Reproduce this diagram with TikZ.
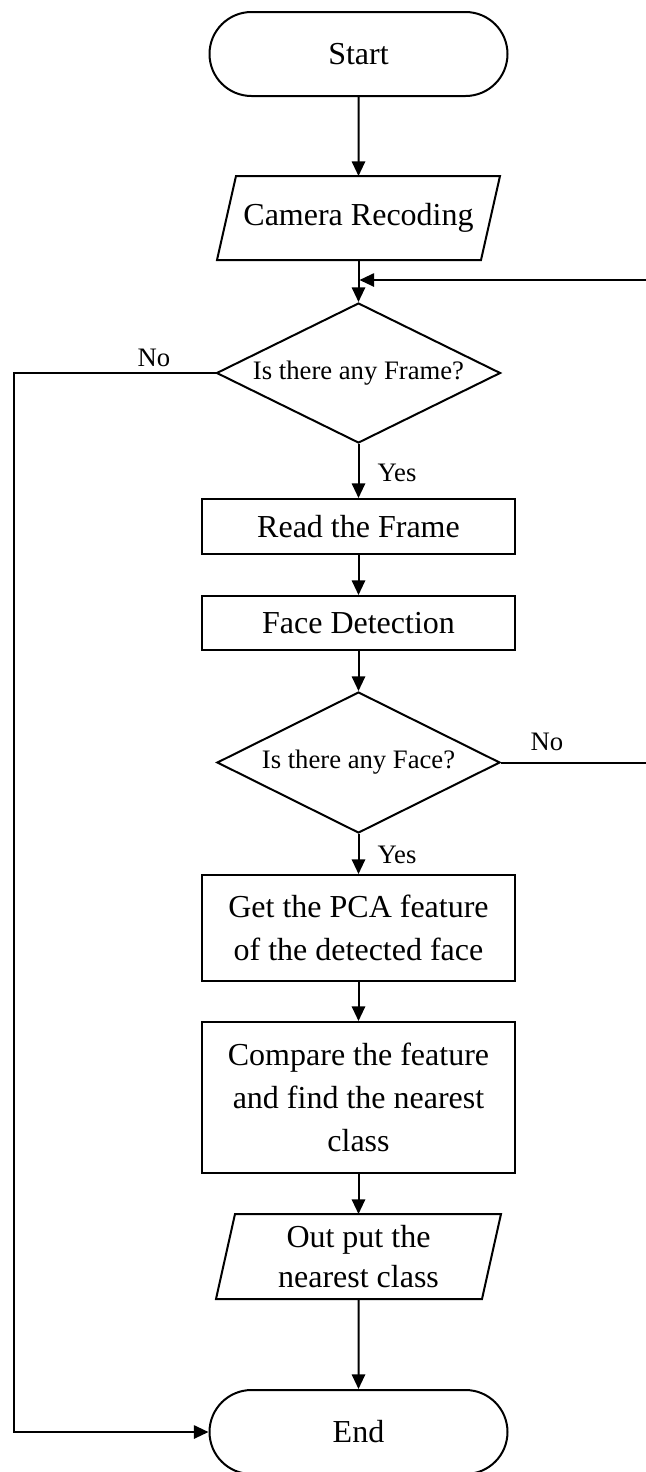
\documentclass[tikz,border=0pt]{standalone}
\usepackage{fontspec}
\setmainfont{Liberation Serif}
\usetikzlibrary{shapes.geometric,shapes.misc,arrows.meta}

\begin{document}
\begin{tikzpicture}[x=0.75pt,y=-0.75pt,line width=1.5pt,
  >={Triangle[length=11pt,width=10pt]},
  bigtext/.style={font=\fontsize{24}{32}\selectfont},
  smalltext/.style={font=\fontsize{20}{24}\selectfont},
  term/.style={rounded rectangle, draw, minimum width=223.5pt,
    minimum height=63pt, inner sep=0pt, bigtext},
  proc/.style={rectangle, draw, minimum width=234.75pt, inner sep=0pt,
    align=center, bigtext},
  decide/.style={diamond, draw, shape aspect=2, inner sep=0pt, smalltext},
  iobox/.style={rectangle, inner sep=0pt, align=center,
    font=\fontsize{24}{30}\selectfont},
  lbl/.style={inner sep=0pt, smalltext},
  flow/.style={->}
]
% page area
\path[use as bounding box, fill=white] (0,0) rectangle (646,1472);

% nodes
\node[term] (start) at (358.5,54) {Start};
\node[iobox, minimum width=210.75pt, minimum height=61.5pt] (cam) at (358.5,218) {Camera Recoding};
\draw ([xshift=14.25pt]cam.north west) -- (cam.north east)
  -- ([xshift=-14.25pt]cam.south east) -- (cam.south west) -- cycle;
\node[decide, minimum width=213pt, minimum height=105pt] (d1) at (358.5,373) {Is there any Frame?};
\node[proc, minimum height=41.25pt] (read) at (358.5,526.5) {Read the Frame};
\node[proc, minimum height=40.5pt] (face) at (358.5,623) {Face Detection};
\node[decide, minimum width=212.25pt, minimum height=105.75pt] (d2) at (358.5,762.5) {Is there any Face?};
\node[proc, minimum height=79.5pt] (pca) at (358.5,928) {Get the PCA feature\\of the detected face};
\node[proc, minimum height=113.25pt] (cmp) at (358.5,1097.5) {Compare the feature\\and find the nearest\\class};
\node[iobox, minimum width=212.25pt, minimum height=62.25pt] (out) at (358.5,1256.5) {Out put the\\nearest class};
\draw ([xshift=14.25pt]out.north west) -- (out.north east)
  -- ([xshift=-14.25pt]out.south east) -- (out.south west) -- cycle;
\node[term] (end) at (358.5,1432) {End};

% branch labels
\node[lbl] (no1) at (154,358) {No};
\node[lbl] (yes1) at (397,473) {Yes};
\node[lbl] (no2) at (547,742) {No};
\node[lbl] (yes2) at (397,855) {Yes};

% junction where the loop returns
\coordinate (join) at (359.5,280);
\coordinate (rightrail) at (650,762.5);
\coordinate (leftrail) at (14,373);

% connectors
\draw[flow] (start) -- (cam);
\draw[flow] (cam) -- (d1);
\draw[flow] (d1) -- (read);
\draw[flow] (read) -- (face);
\draw[flow] (face) -- (d2);
\draw[flow] (d2) -- (pca);
\draw[flow] (pca) -- (cmp);
\draw[flow] (cmp) -- (out);
\draw[flow] (out) -- (end);
\draw[flow] (d2.east) -- (rightrail) |- (join);
\draw[flow] (d1.west) -- (leftrail) |- (end.west);
\end{tikzpicture}
\end{document}
